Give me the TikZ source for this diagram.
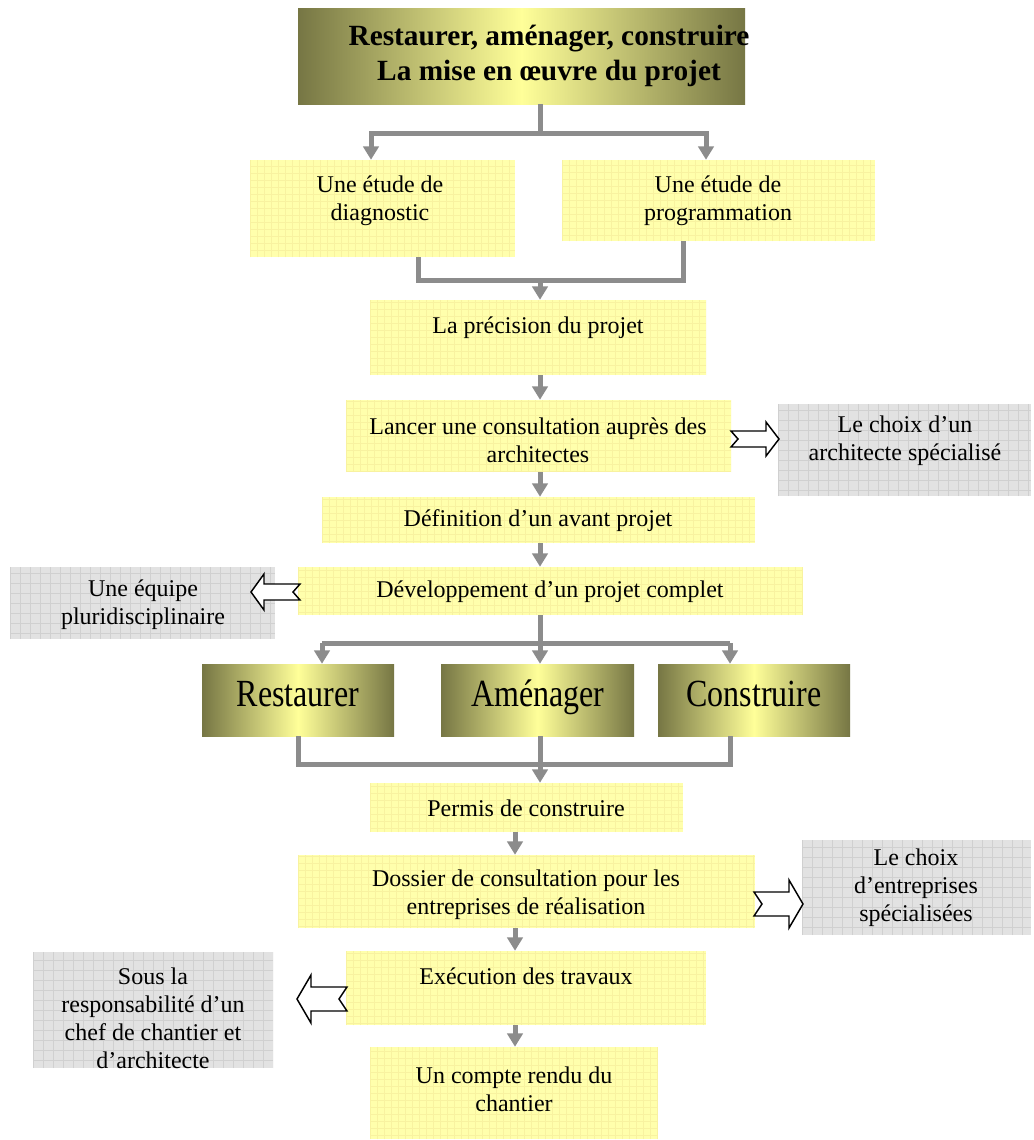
\documentclass[tikz,border=0pt]{standalone}
\usepackage{fontspec}
\usepackage{graphicx}
\setmainfont{Liberation Serif}
\usetikzlibrary{arrows.meta,fit}
\definecolor{yfill}{RGB}{255,255,172}
\definecolor{ygrid}{RGB}{248,242,160}
\definecolor{gfill}{RGB}{226,226,226}
\definecolor{ggrid}{RGB}{208,208,208}
\definecolor{olivedk}{RGB}{118,118,68}
\definecolor{ylight}{RGB}{255,255,153}
\definecolor{cgray}{RGB}{140,140,140}
\tikzset{
  ybox/.style={inner sep=0pt, draw=none, fill=yfill,
    path picture={\draw[ygrid, line width=0.3pt, step=5.25pt] (path picture bounding box.south west) grid (path picture bounding box.north east);}},
  gbox/.style={inner sep=0pt, draw=none, fill=gfill,
    path picture={\draw[ggrid, line width=0.3pt, step=7.5pt] (path picture bounding box.south west) grid (path picture bounding box.north east);}},
  obox/.style={inner sep=0pt, draw=none, left color=olivedk, right color=olivedk, middle color=ylight},
  txt/.style={font=\fontsize{18}{21}\selectfont, align=center, inner sep=0pt},
  ttl/.style={font=\fontsize{22}{25.7}\selectfont\bfseries, align=center, inner sep=0pt},
  big/.style={font=\fontsize{24}{28}\selectfont, inner sep=0pt, anchor=base},
  conn/.style={draw=cgray, line width=3.75pt},
  arr/.style={conn, -{Triangle[width=11.5pt,length=10pt]}},
  barrow/.style={fill=white, draw=black, line width=1.1pt, line join=miter}
}
\newcommand{\RArrow}[7]{% tail, notchdepth, headbase, tip, cy, shafthalf, headhalf
  \draw[barrow] (#1,#5-#6) -- (#3,#5-#6) -- (#3,#5-#7) -- (#4,#5) -- (#3,#5+#7) -- (#3,#5+#6) -- (#1,#5+#6) -- (#1+#2,#5) -- cycle;}
\newcommand{\LArrow}[7]{% tail, notchdepth, headbase, tip, cy, shafthalf, headhalf
  \draw[barrow] (#1,#5-#6) -- (#3,#5-#6) -- (#3,#5-#7) -- (#4,#5) -- (#3,#5+#7) -- (#3,#5+#6) -- (#1,#5+#6) -- (#1-#2,#5) -- cycle;}
\begin{document}
\begin{tikzpicture}[x=0.75pt,y=-0.75pt]
\fill[white] (0,0) rectangle (1033,1140);
\useasboundingbox (0,0) rectangle (1033,1140);

% boxes
\node[obox, fit={(298,8) (745,104)}] (top) {};
\node[ybox, fit={(250,160) (515,257)}] (diag) {};
\node[ybox, fit={(562,160) (875,241)}] (prog) {};
\node[ybox, fit={(370,300) (706,375)}] (prec) {};
\node[ybox, fit={(346,400) (731,472)}] (lanc) {};
\node[gbox, fit={(778,404) (1031,496)}] (ch1) {};
\node[ybox, fit={(322,497) (755,543)}] (def) {};
\node[ybox, fit={(298,567) (803,615)}] (dev) {};
\node[gbox, fit={(10,567) (275,639)}] (eq) {};
\node[obox, fit={(202,664) (394,736)}] (rest) {};
\node[obox, fit={(441,664) (634,736)}] (amen) {};
\node[obox, fit={(658,664) (850,736)}] (cons) {};
\node[ybox, fit={(370,783) (683,832)}] (perm) {};
\node[ybox, fit={(298,855) (755,928)}] (doss) {};
\node[gbox, fit={(802,840) (1031,935)}] (ch2) {};
\node[ybox, fit={(346,951) (706,1025)}] (exec) {};
\node[gbox, fit={(33,952) (273,1068)}] (sous) {};
\node[ybox, fit={(370,1047) (658,1139)}] (cr) {};

% texts
\node[ttl] (topT) at (549,56) {Restaurer, aménager, construire\\La mise en œuvre du projet};
\node[txt] (diagT) at (380,201) {Une étude de\\diagnostic};
\node[txt] (progT) at (718,201) {Une étude de\\programmation};
\node[txt] (precT) at (538,328) {La précision du projet};
\node[txt] (lancT) at (538,440) {Lancer une consultation auprès des\\architectes};
\node[txt] (ch1T) at (905,441) {Le choix d’un\\architecte spécialisé};
\node[txt] (defT) at (538,521) {Définition d’un avant projet};
\node[txt] (devT) at (550,592) {Développement d’un projet complet};
\node[txt] (eqT) at (143,605) {Une équipe\\pluridisciplinaire};
\node[big] (restT) at (298,706) {\scalebox{1}[1.2]{Restaurer}};
\node[big] (amenT) at (538,706) {\scalebox{1}[1.2]{Aménager}};
\node[big] (consT) at (754,706) {\scalebox{1}[1.2]{Construire}};
\node[txt] (permT) at (526,808) {Permis de construire};
\node[txt] (dossT) at (526,895) {Dossier de consultation pour les\\entreprises de réalisation};
\node[txt] (ch2T) at (916,888) {Le choix\\d’entreprises\\spécialisées};
\node[txt] (execT) at (526,976) {Exécution des travaux};
\node[txt] (sousT) at (153,1018) {Sous la\\responsabilité d’un\\chef de chantier et\\d’architecte};
\node[txt] (crT) at (514,1089) {Un compte rendu du\\chantier};

% connectors
\coordinate (j1) at (540,133);
\coordinate (a1) at (371,133);
\coordinate (a2) at (706,133);
\draw[conn] (top.south -| j1) -- (j1);
\draw[arr] (j1) -- (a1) -- (diag.north -| a1);
\draw[arr] (j1) -- (a2) -- (prog.north -| a2);

\coordinate (j2) at (540,280);
\coordinate (b1) at (418,280);
\coordinate (b2) at (683,280);
\draw[conn] (diag.south -| b1) -- (b1) -- (b2) -- (prog.south -| b2);
\draw[arr] (j2) -- (prec.north -| j2);
\draw[arr] (prec.south -| j2) -- (lanc.north -| j2);
\draw[arr] (lanc.south -| j2) -- (def.north -| j2);
\draw[arr] (def.south -| j2) -- (dev.north -| j2);

\coordinate (j3) at (540,643);
\coordinate (c1) at (322,643);
\coordinate (c3) at (730,643);
\draw[conn] (dev.south -| j3) -- (j3);
\draw[conn] (c1) -- (c3);
\draw[arr] (c1) -- (rest.north -| c1);
\draw[arr] (j3) -- (amen.north -| j3);
\draw[arr] (c3) -- (cons.north -| c3);

\coordinate (j4) at (540,764);
\coordinate (e1) at (298,764);
\coordinate (e3) at (730,764);
\draw[conn] (rest.south -| e1) -- (e1) -- (e3) -- (cons.south -| e3);
\draw[conn] (amen.south -| j4) -- (j4);
\draw[arr] (j4) -- (perm.north -| j4);

\coordinate (k) at (515,0);
\draw[arr] (perm.south -| k) -- (doss.north -| k);
\draw[arr] (doss.south -| k) -- (exec.north -| k);
\draw[arr] (exec.south -| k) -- (cr.north -| k);

% block arrows
\RArrow{731}{7}{766}{779}{439}{8}{17}
\LArrow{300}{7}{264}{251}{592}{8}{18}
\RArrow{754}{8}{789}{803}{904}{12}{24}
\LArrow{347}{8}{311}{297}{999}{12}{24}
\end{tikzpicture}
\end{document}
